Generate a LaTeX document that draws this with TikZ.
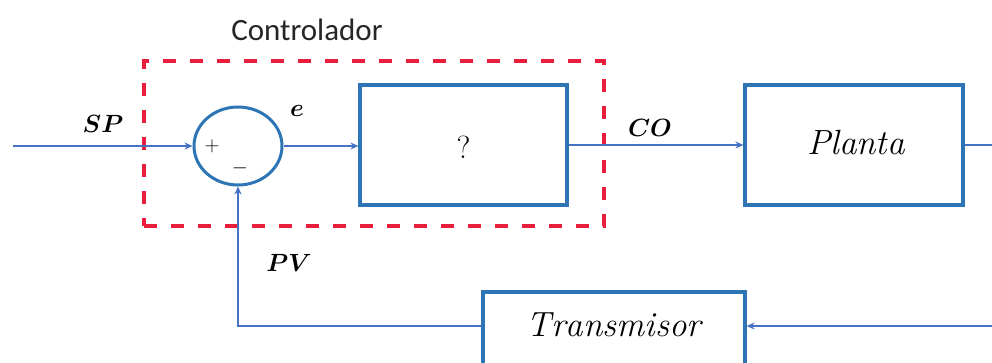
\documentclass[tikz,border=0pt]{standalone}
\usepackage{fontspec}
\usepackage{amsmath}
\usepackage{bm}
\newfontfamily\calib{Carlito}
\usetikzlibrary{shapes.geometric,arrows.meta}
\definecolor{boxblue}{RGB}{46,117,182}
\definecolor{lineblue}{RGB}{68,114,196}
\definecolor{dashred}{RGB}{232,30,60}
\begin{document}
\begin{tikzpicture}[x=1pt,y=-1pt,
  blk/.style={draw=boxblue,line width=3.2pt,rectangle,inner sep=0pt},
  conn/.style={draw=lineblue,line width=2.5pt,-{Stealth[length=8pt,width=7pt]}},
  wire/.style={draw=lineblue,line width=2.5pt},
  lbl/.style={font=\fontsize{27}{30}\selectfont,inner sep=0pt},
  txt/.style={font=\fontsize{35}{40}\selectfont,inner sep=0pt}
]
\clip (0,0) rectangle (992,363);
\fill[white] (0,0) rectangle (992,363);

% controller dashed frame
\node[draw=dashred,line width=4pt,dash pattern=on 13pt off 14pt,rectangle,
      minimum width=460pt,minimum height=165pt,inner sep=0pt] (frame) at (374,143.5) {};
\node[font=\calib\fontsize{31}{36}\selectfont,text=black!85,inner sep=0pt] (ctitle) at (307,30) {Controlador};

% summing junction
\node[draw=boxblue,line width=3pt,ellipse,minimum width=88pt,minimum height=78pt,inner sep=0pt] (sum) at (238,146) {};
\node[font=\fontsize{22}{24}\selectfont,inner sep=0pt] (plus) at (212,146) {$+$};
\node[font=\fontsize{22}{24}\selectfont,inner sep=0pt] (minus) at (240,168) {$-$};

% blocks
\node[blk,minimum width=207pt,minimum height=120pt] (ctrl) at (463.5,145) {};
\node[font=\fontsize{32}{36}\selectfont,inner sep=0pt] (q) at (463.5,147) {?};
\node[blk,minimum width=218pt,minimum height=120pt] (plant) at (854,145) {};
\node[txt] (plantlbl) at (856,143) {$\mathit{Planta}$};
\node[blk,minimum width=262pt,minimum height=111pt] (trans) at (614,347.5) {};
\node[txt] (translbl) at (614,325) {$\mathit{Transmisor}$};

% coordinates for free ends
\coordinate (inp) at (13,146);
\coordinate (outp) at (1000,145);
\coordinate (fb) at (1000,326);
\coordinate (corner) at (238,326);

% connectors
\draw[conn] (inp) -- (sum.west);
\draw[conn] (sum.east) -- (ctrl.west |- sum.east);
\draw[conn] (ctrl.east) -- (plant.west);
\draw[wire] (plant.east) -- (outp);
\draw[conn] (fb) -- (trans.east |- fb);
\draw[conn] (trans.west |- fb) -- (corner) -- (sum.south);

% signal labels
\node[lbl] (sp) at (103,124) {$\bm{SP}$};
\node[lbl] (e) at (297,111) {$\bm{e}$};
\node[lbl] (co) at (650,128) {$\bm{CO}$};
\node[lbl] (pv) at (289,263) {$\bm{PV}$};
\end{tikzpicture}
\end{document}
